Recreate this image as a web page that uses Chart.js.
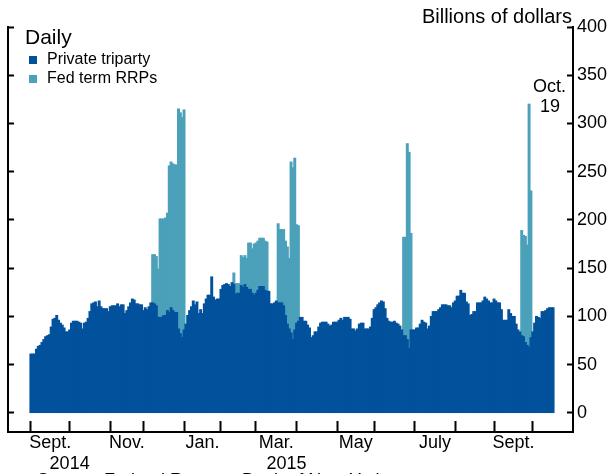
<!DOCTYPE html>
<html>
<head>
<meta charset="utf-8">
<script src="https://cdn.jsdelivr.net/npm/chart.js@4.4.1/dist/chart.umd.min.js"></script>
<style>
  html, body { margin: 0; padding: 0; background: #fff; }
</style>
</head>
<body>
<canvas id="grafico" width="607" height="474"></canvas>
<script>
// business days on the chart (weekends and market holidays left out)
const firstDay = '2014-09-02';
const lastDay = '2015-10-19';
const holidays = ['2014-10-13', '2014-11-11', '2014-11-27', '2014-12-25', '2015-01-01', '2015-01-19',
                  '2015-02-16', '2015-05-25', '2015-07-03', '2015-09-07', '2015-10-12'];

const monthNames = ['Jan.', 'Feb.', 'Mar.', 'Apr.', 'May', 'June', 'July', 'Aug.', 'Sept.', 'Oct.', 'Nov.', 'Dec.'];
const yearLabels = ['2014', '2015'];
const yTicks = [0, 50, 100, 150, 200, 250, 300, 350, 400];

// Private triparty, billions of dollars, one value per business day
const privateTriparty = [
  // Sept. 2014
  61, 61, 61, 66, 69, 70, 73, 76, 79, 80, 81, 89, 97, 98, 101, 96, 93, 91, 88, 84, 84,
  // Oct.
  86, 93, 95, 95, 95, 94, 93, 87, 93, 94, 98, 105, 113, 114, 115, 110, 116, 110, 108, 108, 108, 105,
  // Nov.
  110, 111, 111, 111, 113, 110, 112, 112, 103, 106, 110, 114, 118, 117, 113, 113, 112, 112,
  // Dec.
  106, 109, 107, 110, 114, 114, 113, 111, 99, 99, 99, 101, 101, 106, 104, 109, 106, 104, 104, 87, 82, 78,
  // Jan. 2015
  86, 92, 101, 106, 110, 116, 112, 115, 103, 107, 103, 113, 118, 122, 122, 141, 120, 117, 118, 118,
  // Feb.
  128, 132, 133, 134, 133, 131, 135, 133, 123, 124, 124, 132, 130, 133, 130, 128, 128, 124, 122,
  // Mar.
  124, 127, 131, 131, 131, 127, 126, 126, 113, 113, 114, 116, 114, 114, 114, 111, 101, 92, 87, 83, 76, 86,
  // Apr.
  93, 95, 99, 99, 95, 95, 91, 88, 78, 80, 84, 84, 89, 93, 94, 94, 94, 92, 90, 91, 94, 94,
  // May
  94, 96, 98, 96, 99, 99, 99, 97, 87, 87, 85, 87, 92, 93, 93, 87, 87, 87, 89, 98,
  // June
  107, 109, 112, 114, 116, 115, 108, 98, 95, 94, 94, 95, 93, 92, 90, 86, 80, 80, 76, 67, 86, 86,
  // July
  86, 88, 88, 92, 96, 94, 93, 87, 90, 100, 105, 105, 105, 107, 109, 112, 112, 112, 111, 111, 109, 114,
  // Aug.
  116, 121, 121, 127, 124, 124, 115, 113, 101, 102, 105, 105, 114, 114, 114, 116, 120, 118, 116, 114, 114,
  // Sept.
  118, 116, 114, 114, 107, 96, 96, 96, 107, 103, 100, 100, 92, 86, 84, 80, 79, 73, 70, 68, 78,
  // Oct.
  84, 93, 100, 99, 98, 105, 105, 106, 108, 109, 109, 109
];

// Fed term RRPs, billions of dollars (0 = none outstanding)
const fedTermRRP = [
  // Sept. 2014
  0, 0, 0, 0, 0, 0, 0, 0, 0, 0, 0, 0, 0, 0, 0, 0, 0, 0, 0, 0, 0,
  // Oct.
  0, 0, 0, 0, 0, 0, 0, 0, 0, 0, 0, 0, 0, 0, 0, 0, 0, 0, 0, 0, 0, 0,
  // Nov.
  0, 0, 0, 0, 0, 0, 0, 0, 0, 0, 0, 0, 0, 0, 0, 0, 0, 0,
  // Dec.
  0, 0, 0, 0, 0, 50, 51, 51, 50, 102, 102, 100, 101, 101, 152, 151, 152, 153, 153, 228, 229, 228,
  // Jan. 2015
  228, 0, 0, 0, 0, 0, 0, 0, 0, 0, 0, 0, 0, 0, 0, 0, 0, 0, 0, 0,
  // Feb.
  0, 0, 0, 0, 0, 0, 0, 12, 11, 10, 10, 31, 31, 30, 30, 48, 48, 46, 53,
  // Mar.
  52, 51, 50, 50, 50, 51, 51, 0, 0, 0, 0, 0, 82, 76, 76, 79, 77, 80, 73, 177, 178, 178,
  // Apr.
  102, 99, 0, 0, 0, 0, 0, 0, 0, 0, 0, 0, 0, 0, 0, 0, 0, 0, 0, 0, 0, 0,
  // May
  0, 0, 0, 0, 0, 0, 0, 0, 0, 0, 0, 0, 0, 0, 0, 0, 0, 0, 0, 0,
  // June
  0, 0, 0, 0, 0, 0, 0, 0, 0, 0, 0, 0, 0, 0, 0, 0, 102, 102, 203, 203, 100, 0,
  // July
  0, 0, 0, 0, 0, 0, 0, 0, 0, 0, 0, 0, 0, 0, 0, 0, 0, 0, 0, 0, 0, 0,
  // Aug.
  0, 0, 0, 0, 0, 0, 0, 0, 0, 0, 0, 0, 0, 0, 0, 0, 0, 0, 0, 0, 0,
  // Sept.
  0, 0, 0, 0, 0, 0, 0, 0, 0, 0, 0, 0, 0, 0, 0, 109, 105, 110, 104, 252, 152,
  // Oct.
  0, 0, 0, 0, 0, 0, 0, 0, 0, 0, 0, 0
];

const corTriparty = '#02519c';
const corRRP = '#4ba0ba';
const fonte = '"Liberation Sans", Arial, sans-serif';

function montarDias() {
  let dias = [];
  let d = new Date(firstDay + 'T00:00:00Z');
  const fim = new Date(lastDay + 'T00:00:00Z');
  while (d <= fim) {
    const wd = d.getUTCDay();
    const iso = d.toISOString().slice(0, 10);
    if (wd != 0 && wd != 6 && !holidays.includes(iso)) dias.push(iso);
    d = new Date(d.getTime() + 86400000);
  }
  return dias;
}
const dias = montarDias();

// index of the first business day of each month
const inicioMes = [];
dias.forEach((d, i) => {
  if (i == 0 || d.slice(0, 7) != dias[i - 1].slice(0, 7)) inicioMes.push(i);
});

function ticksX() {
  let t = [];
  inicioMes.forEach((ini, k) => {
    const prox = k + 1 < inicioMes.length ? inicioMes[k + 1] : dias.length;
    const nome = monthNames[Number(dias[ini].slice(5, 7)) - 1];
    t.push({ value: ini, mark: true, text: '' });
    if (k % 2 == 0 && k < inicioMes.length - 1) {
      t.push({ value: (ini + prox) / 2, mark: false, text: nome });
    }
  });
  // year captions, a little right of their month
  t.push({ value: inicioMes[1], mark: false, text: ['', yearLabels[0]] });
  t.push({ value: (inicioMes[6] + inicioMes[7]) / 2 + 5.5, mark: false, text: ['', yearLabels[1]] });
  return t.sort((a, b) => a.value - b.value);
}

const ticksY = s => { s.ticks = yTicks.map(v => ({ value: v })); };

const textos = {
  id: 'textos',
  afterDraw(chart) {
    const { ctx, chartArea, scales } = chart;
    ctx.save();
    ctx.fillStyle = '#000';
    ctx.textBaseline = 'alphabetic';

    ctx.font = '20px ' + fonte;
    ctx.textAlign = 'right';
    ctx.fillText('Billions of dollars', chartArea.right - 1, chartArea.top - 4);

    // legend
    ctx.textAlign = 'left';
    ctx.font = '21px ' + fonte;
    ctx.fillText('Daily', chartArea.left + 17, chartArea.top + 17);
    ctx.font = '16px ' + fonte;
    ctx.textBaseline = 'middle';
    chart.data.datasets.forEach((ds, k) => {
      const y = chartArea.top + 33 + k * 19;
      ctx.fillStyle = ds.backgroundColor;
      ctx.fillRect(chartArea.left + 21, y - 4, 8, 8);
      ctx.fillStyle = '#000';
      ctx.fillText(ds.label, chartArea.left + 39, y);
    });

    // last observation
    const ultimo = dias[dias.length - 1];
    const xu = scales.x.getPixelForValue(dias.length - 1);
    ctx.font = '18px ' + fonte;
    ctx.textAlign = 'right';
    ctx.fillText(monthNames[Number(ultimo.slice(5, 7)) - 1], xu + 13, scales.y.getPixelForValue(338));
    ctx.fillText(String(Number(ultimo.slice(8, 10))), xu + 7, scales.y.getPixelForValue(317));

    // source line, cut by the bottom edge
    ctx.textAlign = 'left';
    ctx.textBaseline = 'alphabetic';
    ctx.fillText('Source: Federal Reserve Bank of New York.', 37, 486);
    ctx.restore();
  }
};

new Chart(document.getElementById('grafico'), {
  type: 'bar',
  data: {
    datasets: [
      {
        label: 'Private triparty',
        data: privateTriparty.map((v, i) => ({ x: i, y: v })),
        backgroundColor: corTriparty,
        borderWidth: 0,
        barPercentage: 1,
        categoryPercentage: 1,
        inflateAmount: 0.55
      },
      {
        label: 'Fed term RRPs',
        data: fedTermRRP.map((v, i) => ({ x: i, y: v > 0 ? v : null })),
        backgroundColor: corRRP,
        borderWidth: 0,
        barPercentage: 1,
        categoryPercentage: 1,
        inflateAmount: 0.55
      }
    ]
  },
  options: {
    responsive: false,
    animation: false,
    events: [],
    layout: { padding: { top: 27, left: 0, right: 0, bottom: 0 } },
    plugins: {
      legend: { display: false },
      title: { display: false },
      tooltip: { enabled: false }
    },
    scales: {
      x: {
        type: 'linear',
        position: 'bottom',
        stacked: true,
        offset: false,
        min: -12.4,
        max: dias.length - 1 + 10.8,
        border: { display: true, color: '#000', width: 2 },
        grid: {
          offset: false,
          drawOnChartArea: false,
          tickLength: -11,
          tickWidth: 2,
          tickColor: c => (c.tick && c.tick.mark) ? '#000' : 'rgba(0,0,0,0)'
        },
        ticks: {
          autoSkip: false,
          maxRotation: 0,
          padding: 11,
          color: '#000',
          font: { family: fonte, size: 18 },
          callback: (v, i, t) => t[i].text
        },
        afterBuildTicks: s => { s.ticks = ticksX(); },
        afterFit: s => { s.height = 42; }
      },
      y: {
        type: 'linear',
        position: 'right',
        stacked: true,
        min: -19.7,
        max: 400,
        border: { display: true, color: '#000', width: 2 },
        grid: { drawOnChartArea: false, tickLength: -6, tickWidth: 2, tickColor: '#000' },
        ticks: { padding: 10, color: '#000', font: { family: fonte, size: 18 } },
        afterBuildTicks: ticksY,
        afterFit: s => { s.width = 34; }
      },
      yLeft: {
        type: 'linear',
        position: 'left',
        min: -19.7,
        max: 400,
        border: { display: true, color: '#000', width: 2 },
        grid: { drawOnChartArea: false, tickLength: -6, tickWidth: 2, tickColor: '#000' },
        ticks: { display: false },
        afterBuildTicks: ticksY,
        afterFit: s => { s.width = 8; }
      }
    }
  },
  plugins: [textos]
});
</script>
</body>
</html>
